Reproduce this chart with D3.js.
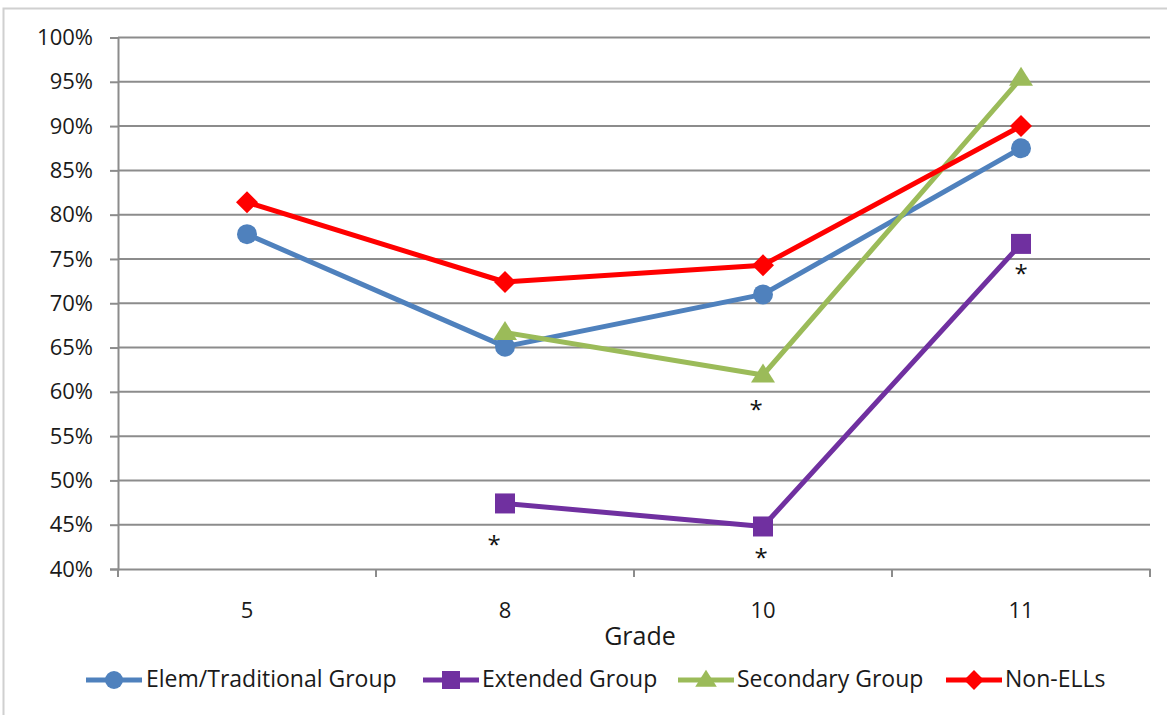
<!DOCTYPE html>
<html><head><meta charset="utf-8">
<script src="https://cdn.jsdelivr.net/npm/d3@7"></script>
<style>
html,body{margin:0;padding:0;background:#fff;}
svg{display:block;font-family:"Open Sans",Lato,sans-serif;}
</style></head>
<body>
<svg id="c" width="1167" height="715"></svg>
<script>
const grades = ["5","8","10","11"];
const elemValues = [77.8, 65.1, 71.0, 87.5];
const extendedValues = [null, 47.4, 44.8, 76.7];
const secondaryValues = [null, 66.7, 61.9, 95.4];
const nonEllValues = [81.4, 72.4, 74.3, 90.0];
const yTicks = [40,45,50,55,60,65,70,75,80,85,90,95,100];
const seriesNames = ["Elem/Traditional Group","Extended Group","Secondary Group","Non-ELLs"];
// asterisks: [series index, grade index]
const asteriskMarks = [[1,1],[1,2],[1,3],[2,2]];

const series = [
  {name: seriesNames[0], values: elemValues, color: "#4f81bd", shape: "circle"},
  {name: seriesNames[1], values: extendedValues, color: "#7030a0", shape: "square"},
  {name: seriesNames[2], values: secondaryValues, color: "#9bbb59", shape: "triangle"},
  {name: seriesNames[3], values: nonEllValues, color: "#ff0000", shape: "diamond"}
];

const svg = d3.select("#c");
const pLeft = 118, pRight = 1150, pTop = 37.5, pBottom = 569;

// outer chart border
svg.append("rect").attr("x",3.5).attr("y",8.5).attr("width",1180).attr("height",720)
  .attr("fill","none").attr("stroke","#d0d0d0").attr("stroke-width",2);

const x = d3.scaleBand().domain(grades).range([pLeft,pRight]).padding(0);
const y = d3.scaleLinear().domain([40,100]).range([pBottom,pTop]);

// gridlines
svg.append("g").selectAll("line").data(yTicks.filter(t=>t>40)).join("line")
  .attr("x1",pLeft).attr("x2",pRight).attr("y1",d=>y(d)).attr("y2",d=>y(d))
  .attr("stroke","#8c8c8c").attr("stroke-width",2);

// y axis
const yAxis = svg.append("g").attr("transform",`translate(${pLeft},0)`)
  .call(d3.axisLeft(y).tickValues(yTicks).tickFormat(d=>d+"%").tickSize(8).tickPadding(17));
yAxis.select(".domain").attr("stroke","#8c8c8c").attr("stroke-width",2);
yAxis.selectAll(".tick line").attr("stroke","#8c8c8c").attr("stroke-width",2);
yAxis.selectAll("text").attr("font-size",22).attr("fill","#1a1a1a").attr("font-family","Open Sans, sans-serif");

// x axis
const xAxis = svg.append("g").attr("transform",`translate(0,${pBottom})`)
  .call(d3.axisBottom(x).tickSize(0).tickPadding(33));
xAxis.select(".domain").attr("stroke","#8c8c8c").attr("stroke-width",2);
xAxis.selectAll("text").attr("font-size",22).attr("fill","#1a1a1a").attr("font-family","Open Sans, sans-serif");
// tick marks at category boundaries
const bounds = grades.map(g=>x(g)).concat([x(grades[grades.length-1])+x.bandwidth()]);
svg.append("g").selectAll("line").data(bounds).join("line")
  .attr("x1",d=>d).attr("x2",d=>d).attr("y1",pBottom).attr("y2",pBottom+8)
  .attr("stroke","#8c8c8c").attr("stroke-width",2);

svg.append("text").attr("x",640).attr("y",645).attr("text-anchor","middle")
  .attr("font-size",25).attr("fill","#1a1a1a").text("Grade");

const cx = g => x(g) + x.bandwidth()/2;

function drawMarker(sel, shape, color, px, py, s){
  if(shape==="circle"){
    sel.append("circle").attr("cx",px).attr("cy",py).attr("r",s*0.5).attr("fill",color);
  } else if(shape==="square"){
    sel.append("rect").attr("x",px-s*0.5).attr("y",py-s*0.5).attr("width",s).attr("height",s).attr("fill",color);
  } else if(shape==="triangle"){
    const h = s*0.95;
    sel.append("path").attr("d",`M${px},${py-h*0.6}L${px+s*0.6},${py+h*0.4}L${px-s*0.6},${py+h*0.4}Z`).attr("fill",color);
  } else {
    const r = s*0.55;
    sel.append("path").attr("d",`M${px},${py-r}L${px+r},${py}L${px},${py+r}L${px-r},${py}Z`).attr("fill",color);
  }
}

const line = d3.line().defined(d=>d.v!==null).x(d=>cx(d.g)).y(d=>y(d.v));
series.forEach(s=>{
  const pts = grades.map((g,i)=>({g, v:s.values[i]}));
  const gr = svg.append("g");
  gr.append("path").datum(pts).attr("d",line).attr("fill","none")
    .attr("stroke",s.color).attr("stroke-width",5).attr("stroke-linejoin","round");
  pts.filter(p=>p.v!==null).forEach(p=>drawMarker(gr, s.shape, s.color, cx(p.g), y(p.v), 20));
});

// asterisks (offsets of the glyph centre from the marker)
const astOffsets = {"1,1":[-11,37],"1,2":[-2,27],"1,3":[0,25],"2,2":[-7,30]};
svg.append("g").selectAll("text").data(asteriskMarks).join("text")
  .attr("x",d=>cx(grades[d[1]]) + astOffsets[d.join(",")][0])
  .attr("y",d=>y(series[d[0]].values[d[1]]) + astOffsets[d.join(",")][1] + 13)
  .attr("text-anchor","middle").attr("font-size",24).attr("fill","#111").text("*");

// legend
const legendItems = [
  {lx:86, tx:146},
  {lx:423, tx:482},
  {lx:678, tx:737},
  {lx:946, tx:1005}
];
const lg = svg.append("g");
series.forEach((s,i)=>{
  const L = legendItems[i];
  const ly = 680;
  lg.append("line").attr("x1",L.lx).attr("x2",L.lx+56).attr("y1",ly).attr("y2",ly)
    .attr("stroke",s.color).attr("stroke-width",5);
  drawMarker(lg, s.shape, s.color, L.lx+28, ly, 18);
  lg.append("text").attr("x",L.tx).attr("y",687).attr("font-size",23).attr("fill","#1a1a1a").text(s.name);
});
</script>
</body></html>
